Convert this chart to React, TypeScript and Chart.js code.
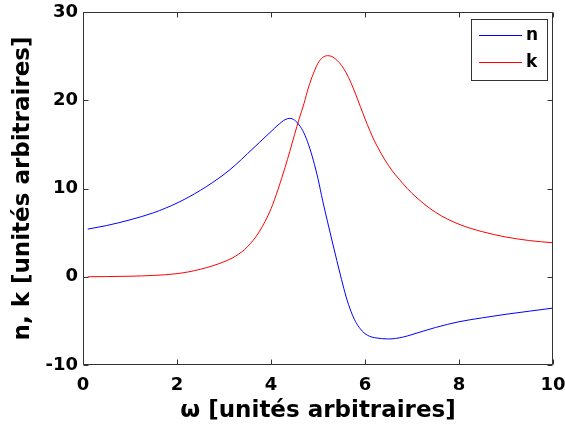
import React, { useEffect, useRef } from 'react';
import { Chart, registerables } from 'chart.js';

Chart.register(...registerables);

// Angular frequency samples (arbitrary units)
const omega = [0.1, 0.5, 1, 1.5, 2, 2.5, 3, 3.25, 3.5, 3.75, 4, 4.15, 4.3, 4.4, 4.5, 4.6, 4.7, 4.8, 4.9, 5, 5.1, 5.2, 5.3, 5.4, 5.5, 5.6, 5.7, 5.8, 5.9, 6, 6.1, 6.2, 6.5, 6.8, 7, 7.5, 8, 8.5, 9, 9.5, 10];
// n values
const nValues = [5.4, 5.8, 6.45, 7.25, 8.35, 9.8, 11.6, 12.7, 13.95, 15.2, 16.45, 17.2, 17.8, 17.95, 17.75, 17.2, 16.3, 14.95, 13.2, 11.1, 8.6, 6.3, 4.05, 1.85, -0.3, -2.3, -3.9, -5.1, -5.9, -6.45, -6.75, -6.9, -7.05, -6.85, -6.55, -5.75, -5.1, -4.65, -4.25, -3.9, -3.55];
// k values
const kValues = [0.0, 0.02, 0.06, 0.15, 0.35, 0.85, 1.7, 2.35, 3.4, 5.1, 7.7, 9.9, 12.4, 14.2, 16.1, 17.9, 19.6, 21.5, 23.0, 24.2, 24.85, 25.05, 24.95, 24.55, 23.95, 23.1, 22.0, 20.7, 19.3, 17.9, 16.6, 15.4, 12.6, 10.6, 9.45, 7.3, 5.95, 5.1, 4.5, 4.1, 3.85];

const seriesLabels = ['n', 'k'];
const seriesColors = ['#0000ff', '#ff0000'];
const xTitle = 'ω [unités arbitraires]';
const yTitle = 'n, k [unités arbitraires]';

const FONT = "'DejaVu Sans', 'Liberation Sans', Arial, sans-serif";

const matlabAxes = {
  id: 'matlabAxes',
  afterDraw(chart: any) {
    const { ctx, chartArea: a, scales } = chart;
    const L = Math.round(a.left) + 0.5;
    const R = Math.round(a.right) - 0.5;
    const T = Math.round(a.top) + 0.5;
    const B = Math.round(a.bottom) - 0.5;
    ctx.save();
    ctx.strokeStyle = '#333333';
    ctx.lineWidth = 1;
    ctx.beginPath();
    ctx.rect(L, T, R - L, B - T);
    const tl = 5;
    const xs = scales.x;
    const ys = scales.y;
    xs.ticks.forEach((t: any) => {
      const px = Math.round(xs.getPixelForValue(t.value)) + 0.5;
      ctx.moveTo(px, B);
      ctx.lineTo(px, B - tl);
      ctx.moveTo(px, T);
      ctx.lineTo(px, T + tl);
    });
    ys.ticks.forEach((t: any) => {
      const py = Math.round(ys.getPixelForValue(t.value)) + 0.5;
      ctx.moveTo(L, py);
      ctx.lineTo(L + tl, py);
      ctx.moveTo(R, py);
      ctx.lineTo(R - tl, py);
    });
    ctx.stroke();

    // legend box (upper right inside the axes)
    const bx = 471.5, by = 19.5, bw = 76, bh = 61;
    ctx.fillStyle = '#ffffff';
    ctx.fillRect(bx, by, bw, bh);
    ctx.strokeStyle = '#333333';
    ctx.strokeRect(bx, by, bw, bh);
    ctx.font = `bold 17px ${FONT}`;
    ctx.textBaseline = 'middle';
    ctx.textAlign = 'left';
    chart.data.datasets.forEach((ds: any, i: number) => {
      const ly = Math.round(by + 15 + i * 27) + 0.5;
      ctx.strokeStyle = ds.borderColor;
      ctx.beginPath();
      ctx.moveTo(479, ly);
      ctx.lineTo(522, ly);
      ctx.stroke();
      ctx.fillStyle = '#000000';
      ctx.fillText(ds.label, 526, ly);
    });
    ctx.restore();
  },
};

export default function App() {
  const ref = useRef<HTMLCanvasElement | null>(null);
  useEffect(() => {
    if (!ref.current) return;
    const chart = new Chart(ref.current, {
      type: 'line',
      data: {
        datasets: [
          {
            label: seriesLabels[0],
            data: omega.map((x, i) => ({ x, y: nValues[i] })),
            borderColor: seriesColors[0],
            borderWidth: 1,
            pointRadius: 0,
            cubicInterpolationMode: 'monotone',
            fill: false,
          },
          {
            label: seriesLabels[1],
            data: omega.map((x, i) => ({ x, y: kValues[i] })),
            borderColor: seriesColors[1],
            borderWidth: 1,
            pointRadius: 0,
            cubicInterpolationMode: 'monotone',
            fill: false,
          },
        ],
      },
      options: {
        responsive: false,
        animation: false,
        layout: { padding: { top: 12, right: 12, left: 0, bottom: 0 } },
        plugins: { legend: { display: false }, tooltip: { enabled: false } },
        scales: {
          x: {
            type: 'linear',
            min: 0,
            max: 10,
            grid: { display: false, drawTicks: false },
            border: { display: false },
            ticks: {
              stepSize: 2,
              color: '#000',
              padding: 10,
              maxRotation: 0,
              font: { family: FONT, size: 18, weight: 'bold' },
            },
            title: {
              display: true,
              text: xTitle,
              color: '#000',
              padding: { top: 0, bottom: 7 },
              font: { family: FONT, size: 23, weight: 'bold' },
            },
            afterFit: (s: any) => {
              s.height = 67;
              s.paddingLeft = 0;
              s.paddingRight = 0;
            },
          },
          y: {
            type: 'linear',
            min: -10,
            max: 30,
            grid: { display: false, drawTicks: false },
            border: { display: false },
            ticks: {
              stepSize: 10,
              color: '#000',
              padding: 5,
              font: { family: FONT, size: 18, weight: 'bold' },
            },
            title: {
              display: true,
              text: yTitle,
              color: '#000',
              padding: { top: 9, bottom: 0 },
              font: { family: FONT, size: 23, weight: 'bold' },
            },
            afterFit: (s: any) => {
              s.width = 83;
              s.paddingTop = 0;
              s.paddingBottom = 0;
            },
          },
        },
      },
      plugins: [matlabAxes],
    } as any);
    return () => chart.destroy();
  }, []);
  return (
    <div style={{ position: 'fixed', left: 0, top: 0, width: 565, height: 432, background: '#fff' }}>
      <canvas ref={ref} width={565} height={432} style={{ display: 'block' }} />
    </div>
  );
}
